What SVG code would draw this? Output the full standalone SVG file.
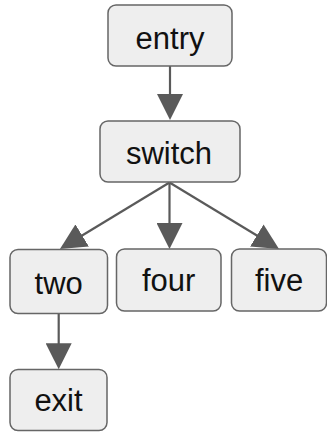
<svg xmlns="http://www.w3.org/2000/svg" width="327" height="432" viewBox="0 0 327 432">
<style>
.box{fill:#eeeeee;stroke:#666666;stroke-width:1.5}
.lbl{font-family:"Liberation Sans",Arial,sans-serif;font-size:31px;fill:#111111;text-anchor:middle}
.edge{fill:none;stroke:#5a5a5a;stroke-width:2.2}
</style>
<defs>
<marker id="ah" markerUnits="userSpaceOnUse" markerWidth="26" markerHeight="26" refX="16" refY="13" orient="auto" viewBox="0 0 26 26">
<path d="M0,0 L26,13 L0,26 z" fill="#5a5a5a"/>
</marker>
</defs>
<g id="connectors">
<path class="edge" d="M170,66 L170,110" marker-end="url(#ah)"/>
<path class="edge" d="M169.5,182.5 L169.5,239" marker-end="url(#ah)"/>
<path class="edge" d="M169.5,182.5 L68.5,243.8" marker-end="url(#ah)"/>
<path class="edge" d="M169.5,182.5 L270.5,243.8" marker-end="url(#ah)"/>
<path class="edge" d="M58.7,313.7 L58.7,359.3" marker-end="url(#ah)"/>
</g>
<g id="entry"><rect class="box" x="108" y="5" width="124" height="61" rx="8"/><text class="lbl" x="170" y="48.5">entry</text></g>
<g id="switch"><rect class="box" x="100" y="121" width="140" height="61" rx="8"/><text class="lbl" x="169" y="164">switch</text></g>
<g id="two"><rect class="box" x="10" y="249.5" width="97.5" height="64" rx="8"/><text class="lbl" x="58.7" y="293.5">two</text></g>
<g id="four"><rect class="box" x="116.5" y="249" width="104.5" height="62" rx="8"/><text class="lbl" x="168.7" y="291">four</text></g>
<g id="five"><rect class="box" x="231.5" y="249" width="95" height="62" rx="8"/><text class="lbl" x="279" y="291">five</text></g>
<g id="exit"><rect class="box" x="10" y="369.5" width="97" height="61" rx="8"/><text class="lbl" x="58.5" y="411">exit</text></g>
</svg>
